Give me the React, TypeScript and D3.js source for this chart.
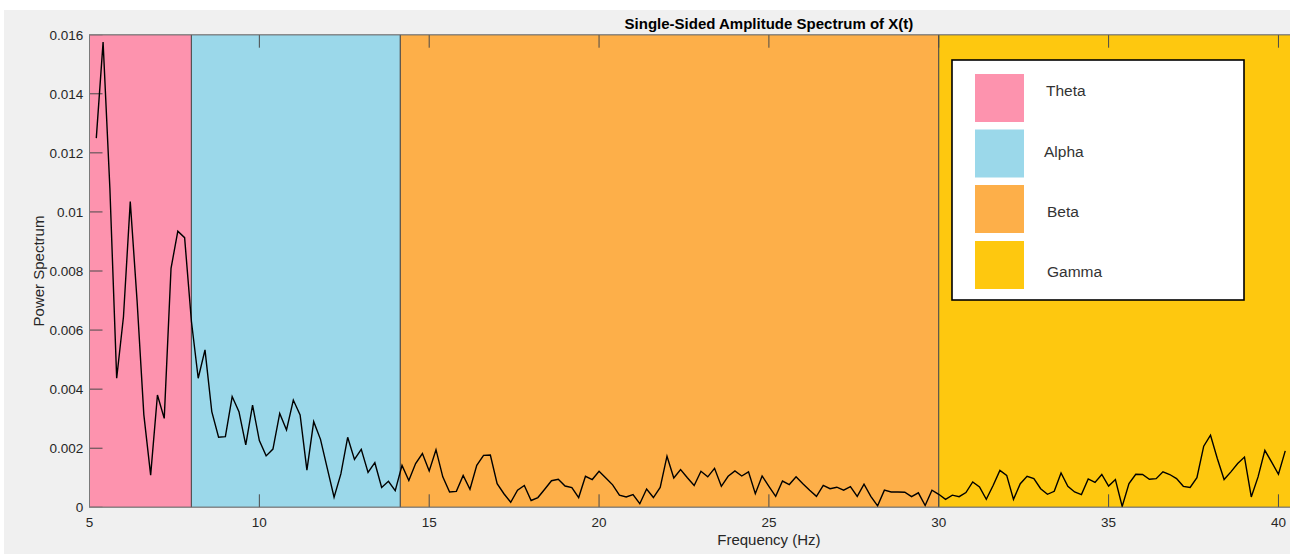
import React from 'react';
import * as d3 from 'd3';

// Spectrum samples: frequency grid start/step (Hz) and power values
const freqStart = 5.2;
const freqStep = 0.2;
const power = [
  0.0125, 0.01575, 0.0108, 0.00437, 0.00645, 0.01035, 0.007, 0.00313, 0.00109, 0.0038,
  0.00301, 0.00809, 0.00935, 0.00913, 0.0063, 0.00437, 0.00533, 0.00324, 0.00237, 0.00239,
  0.00375, 0.00324, 0.00211, 0.00346, 0.00226, 0.00174, 0.00197, 0.00318, 0.00262, 0.00363,
  0.00313, 0.00126, 0.0029, 0.0023, 0.00132, 0.00034, 0.00113, 0.00237, 0.00162, 0.00196,
  0.00118, 0.00151, 0.00067, 0.00088, 0.00056,
  0.00142, 0.00091, 0.00148, 0.00182, 0.00123, 0.00195, 0.00103, 0.00052, 0.00054, 0.00108,
  0.00061, 0.00142, 0.00176, 0.00177, 0.0008, 0.00046, 0.00017, 0.00058, 0.00074, 0.00023,
  0.00033, 0.00061, 0.0009, 0.00095, 0.00072, 0.00067, 0.00033, 0.00105, 0.00094, 0.00122,
  0.00099, 0.00076, 0.00041, 0.00035, 0.00043, 0.00012, 0.00062, 0.00033, 0.00067, 0.00173,
  0.00099, 0.00128, 0.001,
  0.00074, 0.00122, 0.00103, 0.00132, 0.00071, 0.00105, 0.00123, 0.00106, 0.0012, 0.00046,
  0.00106, 0.00071, 0.00037, 0.00089, 0.00077, 0.00103, 0.0008, 0.00058, 0.00037, 0.00074,
  0.00063, 0.00068, 0.00058, 0.0007, 0.00037, 0.00078, 0.00037, 0.00005, 0.00058, 0.00052,
  0.00052, 0.00051, 0.00036, 0.00049, 0.00006, 0.00058, 0.00044, 0.00027,
  0.00041, 0.00036, 0.0005, 0.00086, 0.00069, 0.00027, 0.00074, 0.00125, 0.00108, 0.00027,
  0.0008, 0.00105, 0.00097, 0.00063, 0.00044, 0.00054, 0.00116, 0.00071, 0.00052, 0.00043,
  0.00096, 0.00084, 0.00111, 0.00072, 0.00094, 0.00003, 0.0008, 0.00112, 0.00111, 0.00095,
  0.00097, 0.0012, 0.00111, 0.00097, 0.00071, 0.00067, 0.001, 0.00207, 0.00244, 0.00165,
  0.00094, 0.0012, 0.00148, 0.0017, 0.00035, 0.00103, 0.00193, 0.00153, 0.00112, 0.00191,
];

const bandNames = ['Theta', 'Alpha', 'Beta', 'Gamma'];
const bandStarts = [5, 8, 14.15, 30];
const bandEnds = [8, 14.15, 30, 45];
const bandColors = ['#FD93AE', '#9BD8EA', '#FDAF49', '#FEC80F'];

const xTicks = [5, 10, 15, 20, 25, 30, 35, 40, 45];
const xTickLabels = [5, 10, 15, 20, 25, 30, 35, 40];
const yTicks = [0, 0.002, 0.004, 0.006, 0.008, 0.01, 0.012, 0.014, 0.016];

const titleText = 'Single-Sided Amplitude Spectrum of X(t)';
const xLabel = 'Frequency (Hz)';
const yLabel = 'Power Spectrum';

const W = 1290;
const H = 554;
const FONT = '"Liberation Sans", Arial, Helvetica, sans-serif';

export default function App() {
  const left = 89.5;
  const pxPerHz = 33.97;
  const right = left + 40 * pxPerHz;
  const top = 34.7;
  const bottom = 507.3;
  const x = d3.scaleLinear().domain([5, 45]).range([left, right]);
  const y = d3.scaleLinear().domain([0, 0.016]).range([bottom, top]);
  const pts: [number, number][] = power.map((v, i) => [freqStart + i * freqStep, v]);
  const line = d3
    .line<[number, number]>()
    .x((d) => x(d[0]))
    .y((d) => y(d[1]));
  const fmt = d3.format('~g');
  const tickLen = 13;
  const tickColor = '#4a4a4a';
  const midX = (left + right) / 2;
  const midY = (top + bottom) / 2;

  const legendX = 952;
  const legendY = 60;
  const legendW = 292;
  const legendH = 240;
  const swatchY = [74, 129.5, 185, 241];
  const labelX = [1046, 1044, 1047, 1047];
  const labelBase = [95.5, 157, 217, 276.5];

  return (
    <svg
      width={W}
      height={H}
      style={{ position: 'absolute', left: 0, top: 0, display: 'block' }}
      fontFamily={FONT}
    >
      <rect x={0} y={0} width={W} height={H} fill="#ffffff" />
      <rect x={4} y={10} width={W} height={H} fill="#f0f0f0" />
      <defs>
        <clipPath id="plotclip">
          <rect x={left} y={top} width={right - left} height={bottom - top} />
        </clipPath>
      </defs>
      <g clipPath="url(#plotclip)">
        {bandNames.map((n, i) => (
          <rect
            key={n}
            x={x(bandStarts[i])}
            y={top}
            width={x(bandEnds[i]) - x(bandStarts[i])}
            height={bottom - top}
            fill={bandColors[i]}
            stroke="#4d4d4d"
            strokeWidth={1}
          />
        ))}
        {xTicks.map((t) => (
          <g key={'xt' + t}>
            <line x1={x(t)} x2={x(t)} y1={bottom} y2={bottom - tickLen} stroke={tickColor} strokeWidth={1} />
            <line x1={x(t)} x2={x(t)} y1={top} y2={top + tickLen} stroke={tickColor} strokeWidth={1} />
          </g>
        ))}
        {yTicks.map((t) => (
          <line key={'yt' + t} x1={left} x2={left + tickLen} y1={y(t)} y2={y(t)} stroke={tickColor} strokeWidth={1} />
        ))}
        <path d={line(pts) || ''} fill="none" stroke="#000000" strokeWidth={1.4} strokeLinejoin="miter" />
      </g>
      <rect x={left} y={top} width={right - left} height={bottom - top} fill="none" stroke="#7a7a7a" strokeWidth={1} />
      {xTickLabels.map((t) => (
        <text key={'xl' + t} x={x(t)} y={526.5} textAnchor="middle" fontSize={13.5} fill="#262626">
          {fmt(t)}
        </text>
      ))}
      {yTicks.map((t) => (
        <text key={'yl' + t} x={83.3} y={y(t) + 4.8} textAnchor="end" fontSize={13.5} fill="#262626">
          {fmt(t)}
        </text>
      ))}
      <text x={midX} y={29} textAnchor="middle" fontSize={15} fontWeight="bold" fill="#000000">
        {titleText}
      </text>
      <text x={midX} y={545} textAnchor="middle" fontSize={15} fill="#262626">
        {xLabel}
      </text>
      <text transform={`translate(44,${midY}) rotate(-90)`} textAnchor="middle" fontSize={15} fill="#262626">
        {yLabel}
      </text>
      <g>
        <rect x={legendX} y={legendY} width={legendW} height={legendH} fill="#ffffff" stroke="#000000" strokeWidth={1.6} />
        {bandNames.map((n, i) => (
          <g key={'lg' + n}>
            <rect x={975} y={swatchY[i]} width={49} height={48} fill={bandColors[i]} />
            <text x={labelX[i]} y={labelBase[i]} fontSize={15.5} fill="#333333">
              {n}
            </text>
          </g>
        ))}
      </g>
    </svg>
  );
}
